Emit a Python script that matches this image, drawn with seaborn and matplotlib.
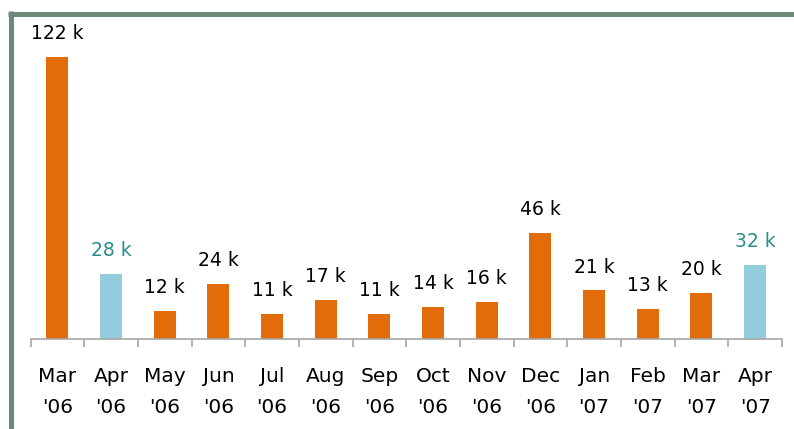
import matplotlib
matplotlib.use("Agg")
import matplotlib.pyplot as plt
from matplotlib.lines import Line2D
import seaborn as sns
import pandas as pd

months = ["Mar\n'06", "Apr\n'06", "May\n'06", "Jun\n'06", "Jul\n'06", "Aug\n'06", "Sep\n'06",
          "Oct\n'06", "Nov\n'06", "Dec\n'06", "Jan\n'07", "Feb\n'07", "Mar\n'07", "Apr\n'07"]
values = [122, 28, 12, 24, 11, 17, 11, 14, 16, 46, 21, 13, 20, 32]
groups = ["other", "april", "other", "other", "other", "other", "other",
          "other", "other", "other", "other", "other", "other", "april"]

bar_colors = {"other": "#E36C0A", "april": "#93CDDD"}
label_colors = {"other": "#000000", "april": "#2A8C8C"}

sns.set_theme(style="white")
plt.rcParams['font.family'] = ['DejaVu Sans']

df = pd.DataFrame({"month": months, "value": values, "group": groups})

fig = plt.figure(figsize=(7.94, 4.29), dpi=100)
W, H = 794, 429
ax = fig.add_axes([30.5 / W, (H - 339) / H, 751.5 / W, (339 - 16) / H])

sns.barplot(data=df, x="month", y="value", hue="group", palette=bar_colors,
            dodge=False, width=0.41, legend=False, ax=ax, saturation=1,
            linewidth=0, edgecolor="none")

ax.set_xlim(-0.5, len(months) - 0.5)
ax.set_ylim(0, 323 / 2.31)
ax.set_xlabel("")
ax.set_ylabel("")
ax.set_yticks([])

for s in ["top", "right", "left"]:
    ax.spines[s].set_visible(False)
ax.spines["bottom"].set_color("#A6A6A6")
ax.spines["bottom"].set_linewidth(1.2)

ax.set_xticks(range(len(months)))
ax.set_xticklabels(months, fontsize=14.5, linespacing=1.75, color="#000000")
ax.set_xticks([i - 0.5 for i in range(len(months) + 1)], minor=True)
ax.tick_params(axis="x", which="major", length=0, pad=20.5)
ax.tick_params(axis="x", which="minor", length=6, width=1.2, color="#A6A6A6",
               direction="out", bottom=True)

for i, (v, g) in enumerate(zip(values, groups)):
    ax.annotate(f"{v} k", xy=(i, v), xytext=(0, 10), textcoords="offset points",
                ha="center", va="bottom", fontsize=13.5, color=label_colors[g])

# frame lines (top and left)
fig.add_artist(Line2D([10.5 / W, 10.5 / W], [0, 1 - 11 / H], transform=fig.transFigure,
                      color="#6B8A77", lw=3.6, solid_capstyle="butt"))
fig.add_artist(Line2D([8 / W, 1], [1 - 13.5 / H, 1 - 13.5 / H], transform=fig.transFigure,
                      color="#6B8A77", lw=3.6, solid_capstyle="butt"))

fig.savefig("out.png", dpi=100, facecolor="white")
